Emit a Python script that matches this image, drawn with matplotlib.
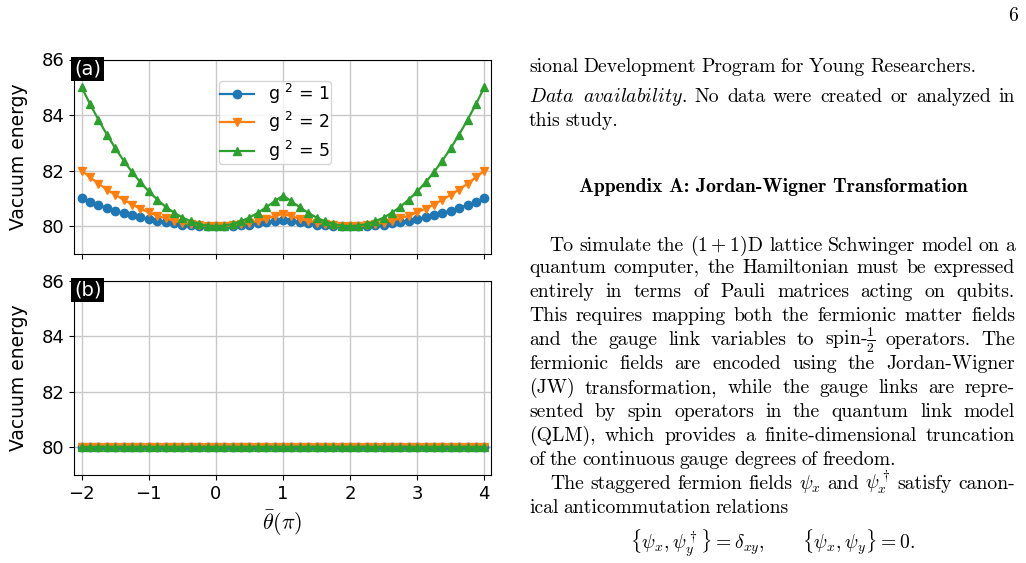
import matplotlib
matplotlib.use('Agg')
import matplotlib.pyplot as plt
import numpy as np

# theta-bar in units of pi, step 1/8
theta = [-2.0, -1.875, -1.75, -1.625, -1.5, -1.375, -1.25, -1.125,
         -1.0, -0.875, -0.75, -0.625, -0.5, -0.375, -0.25, -0.125,
         0.0, 0.125, 0.25, 0.375, 0.5, 0.625, 0.75, 0.875,
         1.0, 1.125, 1.25, 1.375, 1.5, 1.625, 1.75, 1.875,
         2.0, 2.125, 2.25, 2.375, 2.5, 2.625, 2.75, 2.875,
         3.0, 3.125, 3.25, 3.375, 3.5, 3.625, 3.75, 3.875, 4.0]

# panel (a) vacuum energies
e_g1 = [81.00, 80.88, 80.77, 80.66, 80.56, 80.47, 80.39, 80.32,
        80.25, 80.19, 80.14, 80.10, 80.06, 80.04, 80.02, 80.00,
        80.00, 80.00, 80.02, 80.04, 80.06, 80.10, 80.14, 80.18,
        80.22, 80.18, 80.14, 80.10, 80.06, 80.04, 80.02, 80.00,
        80.00, 80.00, 80.02, 80.04, 80.06, 80.10, 80.14, 80.19,
        80.25, 80.32, 80.39, 80.47, 80.56, 80.66, 80.77, 80.88, 81.00]
e_g2 = [82.00, 81.76, 81.53, 81.32, 81.13, 80.95, 80.78, 80.63,
        80.50, 80.38, 80.28, 80.20, 80.13, 80.07, 80.03, 80.01,
        80.00, 80.01, 80.03, 80.07, 80.13, 80.19, 80.27, 80.36,
        80.44, 80.36, 80.27, 80.19, 80.13, 80.07, 80.03, 80.01,
        80.00, 80.01, 80.03, 80.07, 80.13, 80.20, 80.28, 80.38,
        80.50, 80.63, 80.78, 80.95, 81.13, 81.32, 81.53, 81.76, 82.00]
e_g5 = [85.00, 84.39, 83.83, 83.30, 82.81, 82.36, 81.95, 81.58,
        81.25, 80.96, 80.70, 80.49, 80.31, 80.18, 80.08, 80.02,
        80.00, 80.02, 80.08, 80.18, 80.31, 80.48, 80.68, 80.90,
        81.10, 80.90, 80.68, 80.48, 80.31, 80.18, 80.08, 80.02,
        80.00, 80.02, 80.08, 80.18, 80.31, 80.49, 80.70, 80.96,
        81.25, 81.58, 81.95, 82.36, 82.81, 83.30, 83.83, 84.39, 85.00]
# panel (b): flat at 80 for all couplings
e_flat = [80.0] * 49

labels = ['g $^2$ = 1', 'g $^2$ = 2', 'g $^2$ = 5']
markers = ['o', 'v', '^']
colors = ['#1f77b4', '#ff7f0e', '#2ca02c']

W, H = 1026, 563
fig = plt.figure(figsize=(W / 100, H / 100), dpi=100)

ax1 = fig.add_axes([74 / W, 1 - 254 / H, 417 / W, 194.5 / H])
ax2 = fig.add_axes([74 / W, 1 - 475 / H, 417 / W, 194.5 / H], sharex=ax1)

for e, lab, m, c in zip([e_g1, e_g2, e_g5], labels, markers, colors):
    ax1.plot(theta, e, marker=m, color=c, label=lab, markersize=6, lw=1.6)
for lab, m, c in zip(labels, markers, colors):
    ax2.plot(theta, e_flat, marker=m, color=c, label=lab, markersize=6, lw=1.6)

for ax, tag in [(ax1, '(a)'), (ax2, '(b)')]:
    ax.set_ylim(79, 86)
    ax.set_yticks([80, 82, 84, 86])
    ax.grid(True, color='#c8c8c8', lw=1)
    ax.tick_params(labelsize=13)
    ax.set_ylabel('Vacuum energy', fontsize=13.5)
    ax.yaxis.set_label_coords(-0.11, 0.5)
    ax.text(0.0, 1.0, tag, transform=ax.transAxes, ha='left', va='top',
            color='white', fontsize=14,
            bbox=dict(facecolor='black', edgecolor='none', boxstyle='square,pad=0.15'))
ax1.set_xlim(-2.115, 4.1)
ax1.set_xticks([-2, -1, 0, 1, 2, 3, 4])
ax1.tick_params(labelbottom=False)
ax1.legend(loc='upper center', bbox_to_anchor=(0.482, 0.935), fontsize=12.5,
           labelspacing=0.25, borderpad=0.05)
ax2.set_xlabel(r'$\bar{\theta}(\pi)$', fontsize=16, math_fontfamily='cm')

# ---- page text on the right ----
renderer = fig.canvas.get_renderer()
fs = 14.2
X0, X1 = 529, 1015

def put_line(words, y, x0=X0, x1=X1, justify=True, family='cmr10'):
    ts = [fig.text(0, 0, w, fontsize=fs, family=family, va='baseline',
                   math_fontfamily='cm') for w in words]
    ws = [t.get_window_extent(renderer).width for t in ts]
    if justify and len(ws) > 1:
        gap = (x1 - x0 - sum(ws)) / (len(ws) - 1)
    else:
        gap = 0.36 * fs
    x = x0
    for t, w in zip(ts, ws):
        t.set_position((x / W, 1 - y / H))
        x += w + gap

fig.text(1018 / W, 1 - 21 / H, '6', fontsize=fs, family='cmr10', ha='right', va='baseline')

lines = [
    ('sional Development Program for Young Researchers.', 72, X0, False),
    (r'$\mathit{Data}$ $\mathit{availability}$.  No data were created or analyzed in', 102, X0, True),
    ('this study.', 126, X0, False),
    (r'To simulate the $(1+1)$D lattice Schwinger model on a', 251, 549, True),
    ('quantum computer, the Hamiltonian must be expressed', 273, X0, True),
    ('entirely in terms of Pauli matrices acting on qubits.', 297, X0, True),
    ('This requires mapping both the fermionic matter fields', 321, X0, True),
    (r'and the gauge link variables to spin-$\frac{1}{2}$ operators.  The', 345, X0, True),
    ('fermionic fields are encoded using the Jordan-Wigner', 369, X0, True),
    ('(JW) transformation, while the gauge links are repre-', 393, X0, True),
    ('sented by spin operators in the quantum link model', 417, X0, True),
    ('(QLM), which provides a finite-dimensional truncation', 441, X0, True),
    ('of the continuous gauge degrees of freedom.', 465, X0, False),
    (r'The staggered fermion fields $\psi_x$ and $\psi_x^\dagger$ satisfy canon-', 489, 550, True),
    ('ical anticommutation relations', 513, X0, False),
]
for txt, y, x0, just in lines:
    put_line(txt.split(), y, x0=x0, justify=just)

fig.text(773 / W, 1 - 192 / H, 'Appendix A: Jordan-Wigner Transformation',
         fontsize=fs, family='cmb10', ha='center', va='baseline')
fig.text(772 / W, 1 - 549 / H,
         r'$\{\psi_x, \psi_y^\dagger\} = \delta_{xy}, \qquad \{\psi_x, \psi_y\} = 0.$',
         fontsize=fs, ha='center', va='baseline', math_fontfamily='cm')

fig.savefig('out.png', dpi=100)
